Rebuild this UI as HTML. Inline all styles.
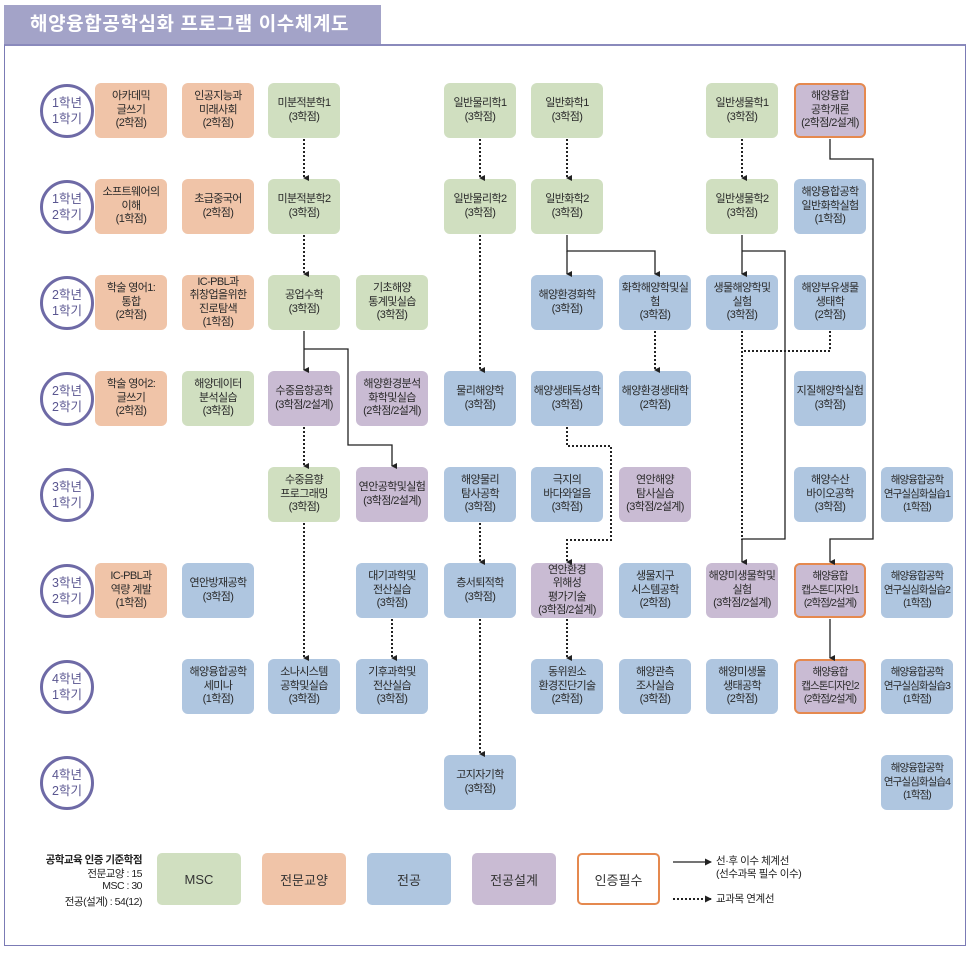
<!DOCTYPE html>
<html><head><meta charset="utf-8"><style>
body{margin:0;width:970px;height:953px;background:#fff;position:relative;overflow:hidden;font-family:"Liberation Sans","Noto Sans CJK KR",sans-serif;}
.hd{position:absolute;left:4px;top:5px;width:377px;height:39px;background:#a3a3c8;color:#fff;font-weight:bold;font-size:19px;line-height:39px;padding-left:26px;box-sizing:border-box;letter-spacing:0.6px}
.fr{position:absolute;left:4px;top:44px;width:962px;height:902px;border:1px solid #7b7bb5;border-top:2px solid #8a8abc;box-sizing:border-box}
.b{position:absolute;width:72px;height:55px;border-radius:6px;display:flex;align-items:center;justify-content:center;text-align:center;font-size:11px;line-height:13.5px;color:#2a2a2a;box-sizing:border-box;letter-spacing:-0.6px;white-space:nowrap}
.G{background:#d0dfc0}.O{background:#f0c4a8}.B{background:#afc6e0}.P{background:#c9bbd3}
.R{border:2.5px solid #e5894f}
.n{font-size:10.5px;letter-spacing:-0.9px}
.c{position:absolute;left:40px;width:54px;height:54px;border:3px solid #6e6aa6;border-radius:50%;box-sizing:border-box;display:flex;align-items:center;justify-content:center;text-align:center;color:#5a5690;font-size:12.5px;line-height:16px}
.lg{position:absolute;top:853px;height:52px;border-radius:5px;display:flex;align-items:center;justify-content:center;font-size:13px;color:#333}
.t{position:absolute;font-size:10.5px;color:#222;line-height:13px}
.lt{position:absolute;right:828px;text-align:right;white-space:nowrap;font-size:10.5px;letter-spacing:-0.5px;color:#222}
svg{position:absolute;left:0;top:0}
</style></head><body>
<div class="hd">해양융합공학심화 프로그램 이수체계도</div>
<div class="fr"></div>

<div class="c" style="top:84px">1학년<br>1학기</div>
<div class="c" style="top:180px">1학년<br>2학기</div>
<div class="c" style="top:276px">2학년<br>1학기</div>
<div class="c" style="top:372px">2학년<br>2학기</div>
<div class="c" style="top:468px">3학년<br>1학기</div>
<div class="c" style="top:564px">3학년<br>2학기</div>
<div class="c" style="top:660px">4학년<br>1학기</div>
<div class="c" style="top:756px">4학년<br>2학기</div>

<div class="b O" style="left:95px;top:83px">아카데믹<br>글쓰기<br>(2학점)</div>
<div class="b O" style="left:182px;top:83px">인공지능과<br>미래사회<br>(2학점)</div>
<div class="b G" style="left:268px;top:83px">미분적분학1<br>(3학점)</div>
<div class="b G" style="left:444px;top:83px">일반물리학1<br>(3학점)</div>
<div class="b G" style="left:531px;top:83px">일반화학1<br>(3학점)</div>
<div class="b G" style="left:706px;top:83px">일반생물학1<br>(3학점)</div>
<div class="b P R" style="left:794px;top:83px">해양융합<br>공학개론<br>(2학점/2설계)</div>

<div class="b O" style="left:95px;top:179px">소프트웨어의<br>이해<br>(1학점)</div>
<div class="b O" style="left:182px;top:179px">초급중국어<br>(2학점)</div>
<div class="b G" style="left:268px;top:179px">미분적분학2<br>(3학점)</div>
<div class="b G" style="left:444px;top:179px">일반물리학2<br>(3학점)</div>
<div class="b G" style="left:531px;top:179px">일반화학2<br>(3학점)</div>
<div class="b G" style="left:706px;top:179px">일반생물학2<br>(3학점)</div>
<div class="b B" style="left:794px;top:179px">해양융합공학<br>일반화학실험<br>(1학점)</div>

<div class="b O" style="left:95px;top:275px">학술 영어1:<br>통합<br>(2학점)</div>
<div class="b O" style="left:182px;top:275px">IC-PBL과<br>취창업을위한<br>진로탐색<br>(1학점)</div>
<div class="b G" style="left:268px;top:275px">공업수학<br>(3학점)</div>
<div class="b G" style="left:356px;top:275px">기초해양<br>통계및실습<br>(3학점)</div>
<div class="b B" style="left:531px;top:275px">해양환경화학<br>(3학점)</div>
<div class="b B" style="left:619px;top:275px">화학해양학및실<br>험<br>(3학점)</div>
<div class="b B" style="left:706px;top:275px">생물해양학및<br>실험<br>(3학점)</div>
<div class="b B" style="left:794px;top:275px">해양부유생물<br>생태학<br>(2학점)</div>

<div class="b O" style="left:95px;top:371px">학술 영어2:<br>글쓰기<br>(2학점)</div>
<div class="b G" style="left:182px;top:371px">해양데이터<br>분석실습<br>(3학점)</div>
<div class="b P" style="left:268px;top:371px">수중음향공학<br>(3학점/2설계)</div>
<div class="b P" style="left:356px;top:371px">해양환경분석<br>화학및실습<br>(2학점/2설계)</div>
<div class="b B" style="left:444px;top:371px">물리해양학<br>(3학점)</div>
<div class="b B" style="left:531px;top:371px">해양생태독성학<br>(3학점)</div>
<div class="b B" style="left:619px;top:371px">해양환경생태학<br>(2학점)</div>
<div class="b B" style="left:794px;top:371px">지질해양학실험<br>(3학점)</div>

<div class="b G" style="left:268px;top:467px">수중음향<br>프로그래밍<br>(3학점)</div>
<div class="b P" style="left:356px;top:467px">연안공학및실험<br>(3학점/2설계)</div>
<div class="b B" style="left:444px;top:467px">해양물리<br>탐사공학<br>(3학점)</div>
<div class="b B" style="left:531px;top:467px">극지의<br>바다와얼음<br>(3학점)</div>
<div class="b P" style="left:619px;top:467px">연안해양<br>탐사실습<br>(3학점/2설계)</div>
<div class="b B" style="left:794px;top:467px">해양수산<br>바이오공학<br>(3학점)</div>
<div class="b B n" style="left:881px;top:467px">해양융합공학<br>연구실심화실습1<br>(1학점)</div>

<div class="b O" style="left:95px;top:563px">IC-PBL과<br>역량 계발<br>(1학점)</div>
<div class="b B" style="left:182px;top:563px">연안방재공학<br>(3학점)</div>
<div class="b B" style="left:356px;top:563px">대기과학및<br>전산실습<br>(3학점)</div>
<div class="b B" style="left:444px;top:563px">층서퇴적학<br>(3학점)</div>
<div class="b P" style="left:531px;top:563px">연안환경<br>위해성<br>평가기술<br>(3학점/2설계)</div>
<div class="b B" style="left:619px;top:563px">생물지구<br>시스템공학<br>(2학점)</div>
<div class="b P" style="left:706px;top:563px">해양미생물학및<br>실험<br>(3학점/2설계)</div>
<div class="b P R n" style="left:794px;top:563px">해양융합<br>캡스톤디자인1<br>(2학점/2설계)</div>
<div class="b B n" style="left:881px;top:563px">해양융합공학<br>연구실심화실습2<br>(1학점)</div>

<div class="b B" style="left:182px;top:659px">해양융합공학<br>세미나<br>(1학점)</div>
<div class="b B" style="left:268px;top:659px">소나시스템<br>공학및실습<br>(3학점)</div>
<div class="b B" style="left:356px;top:659px">기후과학및<br>전산실습<br>(3학점)</div>
<div class="b B" style="left:531px;top:659px">동위원소<br>환경진단기술<br>(2학점)</div>
<div class="b B" style="left:619px;top:659px">해양관측<br>조사실습<br>(3학점)</div>
<div class="b B" style="left:706px;top:659px">해양미생물<br>생태공학<br>(2학점)</div>
<div class="b P R n" style="left:794px;top:659px">해양융합<br>캡스톤디자인2<br>(2학점/2설계)</div>
<div class="b B n" style="left:881px;top:659px">해양융합공학<br>연구실심화실습3<br>(1학점)</div>

<div class="b B" style="left:444px;top:755px">고지자기학<br>(3학점)</div>
<div class="b B n" style="left:881px;top:755px">해양융합공학<br>연구실심화실습4<br>(1학점)</div>

<svg width="970" height="953">
<defs><marker id="a" markerWidth="6" markerHeight="6" refX="3" refY="5" orient="auto-start-reverse" markerUnits="userSpaceOnUse"><path d="M0,0 L6,0 L3,6 z" fill="#222"/></marker>
<marker id="r" markerWidth="7" markerHeight="7" refX="6" refY="3.5" orient="auto" markerUnits="userSpaceOnUse"><path d="M0,0 L7,3.5 L0,7 z" fill="#222"/></marker></defs>
<g fill="none" stroke="#222" stroke-width="2" stroke-dasharray="2,2">
<path d="M304 139V178" marker-end="url(#a)"/>
<path d="M304 235V274" marker-end="url(#a)"/>
<path d="M480 139V178" marker-end="url(#a)"/>
<path d="M480 235V370" marker-end="url(#a)"/>
<path d="M567 139V178" marker-end="url(#a)"/>
<path d="M742 139V178" marker-end="url(#a)"/>
<path d="M655 331V370" marker-end="url(#a)"/>
<path d="M304 427V466" marker-end="url(#a)"/>
<path d="M304 523V658" marker-end="url(#a)"/>
<path d="M392 619V658" marker-end="url(#a)"/>
<path d="M480 523V562" marker-end="url(#a)"/>
<path d="M480 619V754" marker-end="url(#a)"/>
<path d="M567 619V658" marker-end="url(#a)"/>
<path d="M567 427V446H611V540H567V562" marker-end="url(#a)"/>
<path d="M742 331V540"/>
<path d="M830 331V351H742"/>
<path d="M673 899H711" marker-end="url(#r)"/>
</g>
<g fill="none" stroke="#222" stroke-width="1.3">
<path d="M567 235V251H655V274" marker-end="url(#a)"/>
<path d="M567 251V274" marker-end="url(#a)"/>
<path d="M742 235V274" marker-end="url(#a)"/>
<path d="M742 251H785V539H742V562" marker-end="url(#a)"/>
<path d="M830 139V159H873V539H830V562" marker-end="url(#a)"/>
<path d="M830 619V658" marker-end="url(#a)"/>
<path d="M304 331V370" marker-end="url(#a)"/>
<path d="M304 349H348V445H392V466" marker-end="url(#a)"/>
<path d="M673 862H711" marker-end="url(#r)"/>
</g>
</svg>

<div class="lt" style="top:852px;font-weight:bold">공학교육 인증 기준학점</div>
<div class="lt" style="top:866px">전문교양 : 15</div>
<div class="lt" style="top:880px">MSC : 30</div>
<div class="lt" style="top:894px">전공(설계) : 54(12)</div>
<div class="lg G" style="left:157px;width:84px">MSC</div>
<div class="lg O" style="left:262px;width:84px">전문교양</div>
<div class="lg B" style="left:367px;width:84px">전공</div>
<div class="lg P" style="left:472px;width:84px">전공설계</div>
<div class="lg" style="left:577px;width:83px;border:2px solid #e5894f;box-sizing:border-box;background:#fff">인증필수</div>
<div class="t" style="left:716px;top:855px;letter-spacing:-0.4px">선·후 이수 체계선<br>(선수과목 필수 이수)</div>
<div class="t" style="left:716px;top:893px;letter-spacing:-0.4px">교과목 연계선</div>
</body></html>
